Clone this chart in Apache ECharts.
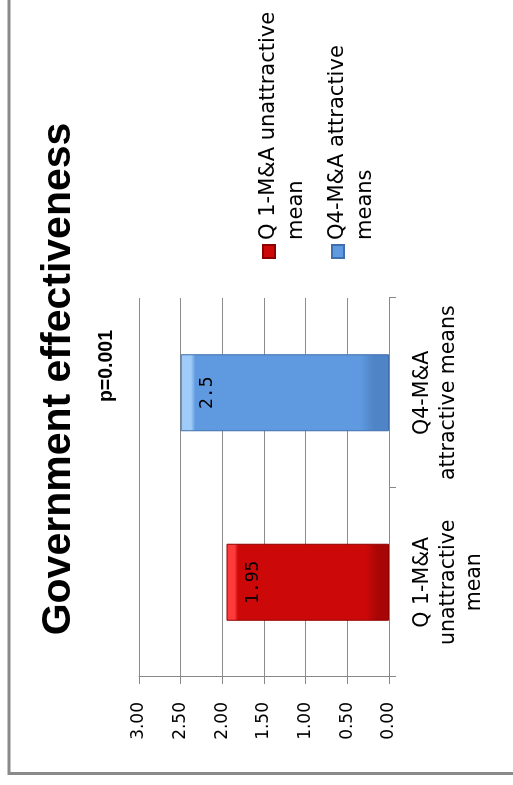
<!DOCTYPE html>
<html>
<head>
<meta charset="utf-8">
<script src="https://cdn.jsdelivr.net/npm/echarts@6/dist/echarts.min.js"></script>
<style>
  html, body { margin: 0; padding: 0; background: #ffffff; overflow: hidden; }
  body { width: 513px; height: 785px; position: relative; }
  /* The chart is laid out landscape and turned a quarter turn counter-clockwise */
  #chart {
    position: absolute; left: 0; top: 0;
    width: 785px; height: 513px;
    transform-origin: 0 0;
    transform: translate(0, 785px) rotate(-90deg);
  }
</style>
</head>
<body>
<div id="chart"></div>
<script>
// Category labels (as printed under the bars)
const categories = ['Q 1-M&A\nunattractive\nmean', 'Q4-M&A\nattractive means'];
// Series names shown in the legend
const seriesNames = ['Q 1-M&A unattractive mean', 'Q4-M&A attractive means'];
const legendLabels = ['Q 1-M&A unattractive\nmean', 'Q4-M&A attractive\nmeans'];
// Group means
const groupMeans = [1.95, 2.5];
// Value axis
const axisMin = 0, axisMax = 3, axisStep = 0.5;

const chartTitle = 'Government effectiveness';
const chartSubtitle = 'p=0.001';

const barFills = [
  { light: '#ff3a3a', main: '#cc0808', dark: '#a80606', edge: '#8e0000' },
  { light: '#9fcbf8', main: '#5f9ae0', dark: '#4f84c6', edge: '#3f6fad' }
];

function bevel(c) {
  return {
    type: 'linear', x: 0, y: 0, x2: 0, y2: 1,
    colorStops: [
      { offset: 0, color: c.light },
      { offset: 0.05, color: c.light },
      { offset: 0.07, color: c.main },
      { offset: 0.86, color: c.main },
      { offset: 0.93, color: c.dark },
      { offset: 1, color: c.dark }
    ]
  };
}

const series = seriesNames.map((name, i) => ({
  name: name,
  type: 'bar',
  barWidth: 77,
  barGap: '-100%',
  data: categories.map((c, j) => (j === i ? groupMeans[i] : '-')),
  itemStyle: { color: bevel(barFills[i]), borderColor: barFills[i].edge, borderWidth: 1 },
  label: {
    show: true,
    position: 'insideTop',
    distance: 18,
    formatter: p => String(p.value),
    fontFamily: 'DejaVu Sans Mono',
    fontSize: 18,
    color: '#000'
  }
}));

const chart = echarts.init(document.getElementById('chart'), null, { renderer: 'canvas' });
chart.setOption({
  animation: false,
  backgroundColor: '#ffffff',
  graphic: [{
    type: 'rect',
    shape: { x: 11.5, y: 9, width: 800, height: 600 },
    style: { fill: 'none', stroke: '#8a8a8a', lineWidth: 3 },
    silent: true
  }],
  title: [{
    text: chartTitle,
    left: 406,
    top: 38,
    padding: 0,
    textAlign: 'center',
    textStyle: { fontFamily: 'Liberation Sans', fontWeight: 'bold', fontSize: 41, color: '#000' }
  }, {
    text: chartSubtitle,
    left: 419,
    top: 97,
    padding: 0,
    textAlign: 'center',
    textStyle: { fontFamily: 'Liberation Sans', fontWeight: 'bold', fontSize: 19.5, color: '#000' }
  }],
  legend: {
    orient: 'vertical',
    left: 526,
    top: 227,
    padding: 0,
    itemWidth: 13,
    itemHeight: 12,
    itemGap: -15,
    icon: 'rect',
    data: seriesNames,
    // a leading blank line keeps the marker level with the first text line
    formatter: name => '\n' + legendLabels[seriesNames.indexOf(name)],
    textStyle: {
      fontFamily: 'DejaVu Sans',
      fontSize: 21,
      lineHeight: 28,
      color: '#000'
    }
  },
  grid: { left: 108, top: 139, width: 379, height: 250, containLabel: false },
  xAxis: {
    type: 'category',
    data: categories,
    axisLine: { show: true, lineStyle: { color: '#888', width: 1 } },
    axisTick: { show: true, length: 7, lineStyle: { color: '#888' } },
    axisLabel: {
      interval: 0,
      margin: 21,
      fontFamily: 'DejaVu Sans',
      fontSize: 20.5,
      lineHeight: 26,
      color: '#000',
      align: 'center'
    }
  },
  yAxis: {
    type: 'value',
    min: axisMin,
    max: axisMax,
    interval: axisStep,
    axisLine: { show: true, lineStyle: { color: '#888', width: 1 } },
    axisTick: { show: true, length: 7, lineStyle: { color: '#888' } },
    splitLine: { show: true, lineStyle: { color: '#8c8c8c', width: 1 } },
    axisLabel: {
      margin: 25,
      fontFamily: 'DejaVu Sans',
      fontSize: 17,
      color: '#000',
      formatter: v => v.toFixed(2)
    }
  },
  series: series
});
</script>
</body>
</html>
